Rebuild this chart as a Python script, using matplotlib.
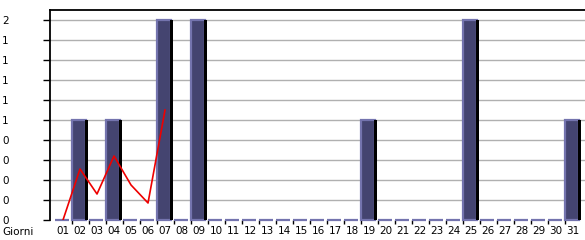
import matplotlib
matplotlib.use("Agg")
from matplotlib import pyplot as plt
import numpy as np

days = list(range(1, 32))
day_labels = [f"{d:02d}" for d in days]
visits = [0, 1, 0, 1, 0, 0, 2, 0, 2, 0, 0, 0, 0, 0, 0, 0, 0, 0, 1, 0,
          0, 0, 0, 0, 2, 0, 0, 0, 0, 0, 1]
trend_days = [1, 2, 3, 4, 5, 6, 7]
trend_values = [0.0, 0.51, 0.26, 0.64, 0.35, 0.17, 1.1]
y_ticks = [0.0, 0.2, 0.4, 0.6, 0.8, 1.0, 1.2, 1.4, 1.6, 1.8, 2.0]
y_tick_labels = ["0", "0", "0", "0", "0", "1", "1", "1", "1", "1", "2"]

FILL = "#444470"
EDGE = "#7474ae"
px = 1 / 17  # one pixel in day units

fig = plt.figure(figsize=(5.85, 2.4), dpi=100)
ax = fig.add_axes([50 / 585, 20 / 240, 535 / 585, 210 / 240])
ax.set_xlim(1 - 13 * px, 31.7)
ax.set_ylim(0, 2.1)

# grid
for y in y_ticks[1:]:
    ax.axhline(y, color="#b0b0b0", lw=1, zorder=0)

x = np.array(days, dtype=float)
v = np.array(visits, dtype=float)

# main bars, light edge shows at left/top and as a flat line for zero days
ax.bar(x - 1 * px, v, width=14 * px, facecolor=FILL, edgecolor=EDGE,
       lw=1.6, zorder=2, clip_on=False)
# black shadow on the right side of the non-zero bars
ax.bar(x + 6.5 * px, v, width=2.6 * px, color="black", lw=0, zorder=3)

ax.plot(trend_days, trend_values, color="#ee0000", lw=1.2, zorder=4)

for side in ["right", "bottom"]:
    ax.spines[side].set_visible(False)
ax.spines["left"].set_linewidth(1.3)
ax.spines["top"].set_linewidth(1.3)

ax.set_yticks(y_ticks)
ax.set_yticklabels(y_tick_labels, ha="left", fontsize=7.5)
ax.tick_params(axis="y", length=5, width=1, pad=29.5)

ax.set_xticks(x)
ax.set_xticklabels(day_labels, fontsize=7.5)
ax.tick_params(axis="x", length=0, pad=4)
ax.set_xticks(x[:-1] + 0.5, minor=True)
ax.tick_params(axis="x", which="minor", length=3, width=1, color="black")

fig.text(2 / 585, 1 - 232 / 240, "Giorni", fontsize=7.5, ha="left", va="center")

fig.savefig("out.png", dpi=100)
